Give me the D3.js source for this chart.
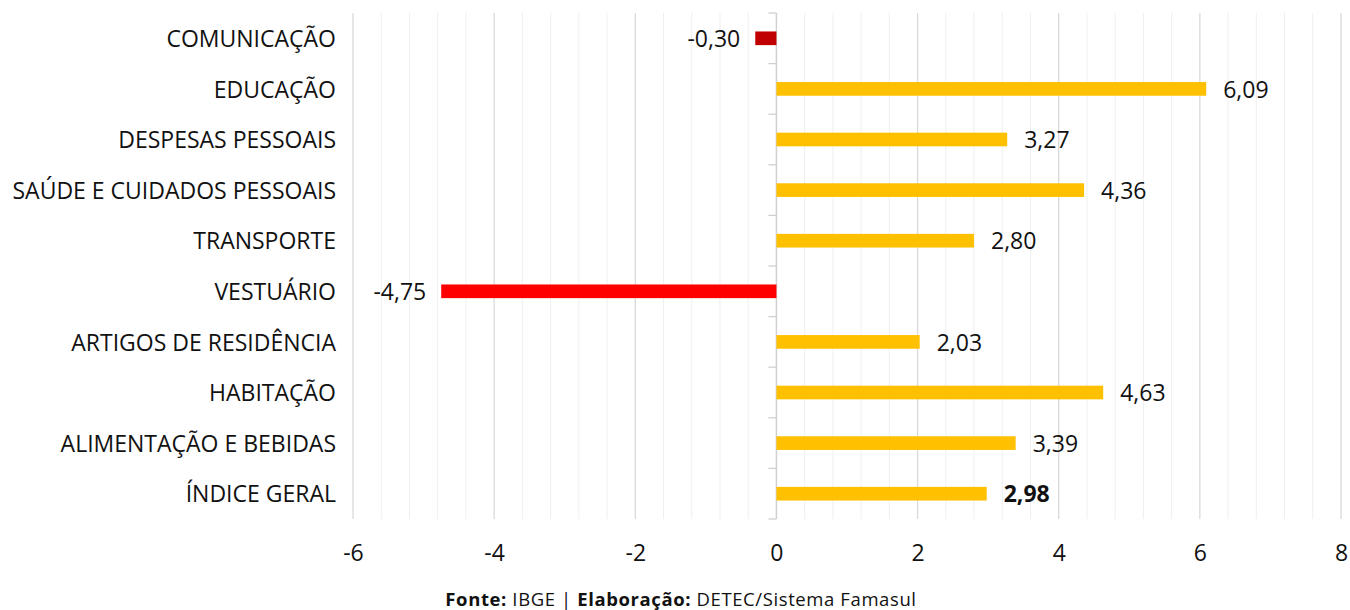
<!DOCTYPE html>
<html>
<head>
<meta charset="utf-8">
<script src="https://cdn.jsdelivr.net/npm/d3@7"></script>
<style>
  html, body { margin: 0; padding: 0; background: #fff; }
  svg { display: block; font-family: "Open Sans", "Noto Sans", sans-serif; }
</style>
</head>
<body>
<svg id="chart" width="1350" height="610"></svg>
<script>
// IPCA por grupo (variação acumulada, %)
const categories = [
  "COMUNICAÇÃO",
  "EDUCAÇÃO",
  "DESPESAS PESSOAIS",
  "SAÚDE E CUIDADOS PESSOAIS",
  "TRANSPORTE",
  "VESTUÁRIO",
  "ARTIGOS DE RESIDÊNCIA",
  "HABITAÇÃO",
  "ALIMENTAÇÃO E BEBIDAS",
  "ÍNDICE GERAL"
];
const values = [-0.30, 6.09, 3.27, 4.36, 2.80, -4.75, 2.03, 4.63, 3.39, 2.98];
const barColors = ["#C00000", "#FFC000", "#FFC000", "#FFC000", "#FFC000", "#FF0000", "#FFC000", "#FFC000", "#FFC000", "#FFC000"];
const xTicks = [-6, -4, -2, 0, 2, 4, 6, 8];
const highlighted = "ÍNDICE GERAL";

const svg = d3.select("#chart");
const plotLeft = 353, plotRight = 1341, plotTop = 13, plotBottom = 519;

const x = d3.scaleLinear().domain([-6, 8]).range([plotLeft, plotRight]);
const y = d3.scaleBand().domain(categories).range([plotTop, plotBottom]).paddingInner(0).paddingOuter(0);
const barH = y.bandwidth() * 0.27;

// Brazilian decimal comma, plain hyphen for negatives
const fmt = v => d3.format(".2f")(v).replace("−", "-").replace(".", ",");

// minor gridlines every 0.4
const minor = d3.range(-6, 8.0001, 0.4).map(v => +v.toFixed(2)).filter(v => Math.abs(v / 2 - Math.round(v / 2)) > 1e-6);
svg.append("g").selectAll("line").data(minor).join("line")
  .attr("x1", d => x(d)).attr("x2", d => x(d))
  .attr("y1", plotTop).attr("y2", plotBottom)
  .attr("stroke", "#efefef").attr("stroke-width", 1);

// major gridlines
svg.append("g").selectAll("line").data(xTicks).join("line")
  .attr("x1", d => x(d)).attr("x2", d => x(d))
  .attr("y1", plotTop).attr("y2", plotBottom)
  .attr("stroke", "#d9d9d9").attr("stroke-width", 1.3);

// x-axis tick labels
const xAxis = d3.axisBottom(x).tickValues(xTicks).tickSize(0).tickPadding(0).tickFormat(d => String(d).replace("−", "-"));
const gx = svg.append("g").attr("transform", `translate(0, 545)`).call(xAxis);
gx.select(".domain").remove();
gx.selectAll("text").attr("font-size", 23).attr("fill", "#111").attr("font-family", "Open Sans, sans-serif");

// category axis at zero
const zeroX = x(0);
svg.append("line").attr("x1", zeroX).attr("x2", zeroX).attr("y1", plotTop).attr("y2", plotBottom)
  .attr("stroke", "#d0d0d0").attr("stroke-width", 1.3);
const bounds = categories.map(c => y(c)).concat([plotBottom]);
svg.append("g").selectAll("line").data(bounds).join("line")
  .attr("x1", zeroX - 8).attr("x2", zeroX)
  .attr("y1", d => d).attr("y2", d => d)
  .attr("stroke", "#d0d0d0").attr("stroke-width", 1.3);

// category labels
svg.append("g").selectAll("text").data(categories).join("text")
  .attr("x", 336)
  .attr("y", d => y(d) + y.bandwidth() / 2)
  .attr("dy", "0.38em")
  .attr("text-anchor", "end")
  .attr("font-size", 23)
  .attr("fill", "#111")
  .text(d => d);

// bars
svg.append("g").selectAll("rect").data(values).join("rect")
  .attr("x", d => Math.min(x(0), x(d)))
  .attr("width", d => Math.abs(x(d) - x(0)))
  .attr("y", (d, i) => y(categories[i]) + (y.bandwidth() - barH) / 2)
  .attr("height", barH)
  .attr("fill", (d, i) => barColors[i]);

// value labels
svg.append("g").selectAll("text").data(values).join("text")
  .attr("x", d => d >= 0 ? x(d) + 17 : x(d) - 15)
  .attr("y", (d, i) => y(categories[i]) + y.bandwidth() / 2)
  .attr("dy", "0.38em")
  .attr("text-anchor", d => d >= 0 ? "start" : "end")
  .attr("font-size", 23)
  .attr("font-weight", (d, i) => categories[i] === highlighted ? "bold" : "normal")
  .attr("fill", "#111")
  .text(d => fmt(d));

// source note
const note = svg.append("text")
  .attr("x", 681).attr("y", 606)
  .attr("text-anchor", "middle")
  .attr("font-size", 18.5)
  .attr("letter-spacing", 0.6)
  .attr("fill", "#111");
note.append("tspan").attr("font-weight", "bold").text("Fonte:");
note.append("tspan").text(" IBGE | ");
note.append("tspan").attr("font-weight", "bold").text("Elaboração:");
note.append("tspan").text(" DETEC/Sistema Famasul");
</script>
</body>
</html>
